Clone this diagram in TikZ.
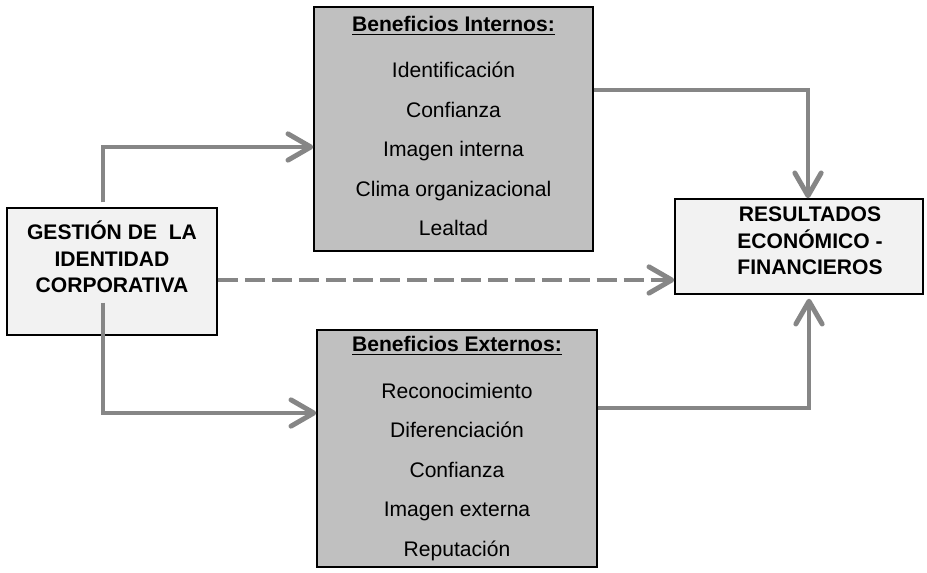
\documentclass[tikz,border=0pt]{standalone}
\usepackage{fontspec}
\setmainfont{Liberation Sans}
\usetikzlibrary{arrows.meta}
\definecolor{cajaclara}{HTML}{F2F2F2}
\definecolor{cajaoscura}{HTML}{C0C0C0}
\definecolor{flechagris}{HTML}{868686}

\begin{document}
\begin{tikzpicture}[x=0.02cm, y=-0.02cm,
	caja/.style={draw=black, line width=0.85pt, inner sep=0pt},
	clara/.style={caja, fill=cajaclara},
	oscura/.style={caja, fill=cajaoscura, align=center, font=\fontsize{12}{22.5}\selectfont},
	titulo/.style={align=center, font=\fontsize{12}{15.2}\selectfont\bfseries},
	flecha/.style={draw=flechagris, line width=2.8pt, -{Straight Barb[length=13pt,width=15pt,round]}},
	discontinua/.style={flecha, dash pattern=on 11.4pt off 4pt}]
\useasboundingbox (0,0) rectangle (927,573);
\node[clara, minimum width=4.2cm, minimum height=2.54cm] (gestion) at (112,271.5) {};
\node[titulo] (gestiontxt) at (112,257) {GESTIÓN DE\ \ LA\\IDENTIDAD\\CORPORATIVA};
\node[oscura, minimum width=5.58cm, minimum height=4.88cm, text depth=3.4pt] (interno) at (453.5,129) {
	\textbf{\underline{Beneficios Internos:}}\\[4pt]
	Identificación\\
	Confianza\\
	Imagen interna\\
	Clima organizacional\\
	Lealtad};
\node[oscura, minimum width=5.6cm, minimum height=4.74cm] (externo) at (457,448.5) {
	\textbf{\underline{Beneficios Externos:}}\\[4pt]
	Reconocimiento\\
	Diferenciación\\
	Confianza\\
	Imagen externa\\
	Reputación};
\node[clara, minimum width=4.96cm, minimum height=1.9cm] (resultado) at (799,246.5) {};
\node[titulo] (resultadotxt) at (810,241) {RESULTADOS\\ECONÓMICO -\\FINANCIEROS};

\draw[flecha] ([xshift=-0.18cm,yshift=0.1cm]gestion.north) |- ([yshift=-0.36cm]interno.west);
\draw[flecha] ([xshift=-0.18cm,yshift=0.66cm]gestion.south) |- ([yshift=0.71cm]externo.west);
\draw[flecha] ([yshift=0.78cm]interno.east) -| ([xshift=0.18cm]resultado.north);
\draw[flecha] ([yshift=0.81cm]externo.east) -| ([xshift=0.2cm,yshift=-0.08cm]resultado.south);
\draw[discontinua] ([yshift=-0.17cm]gestion.east) -- ([yshift=-0.17cm]gestion.east -| resultado.west);
\end{tikzpicture}
\end{document}
